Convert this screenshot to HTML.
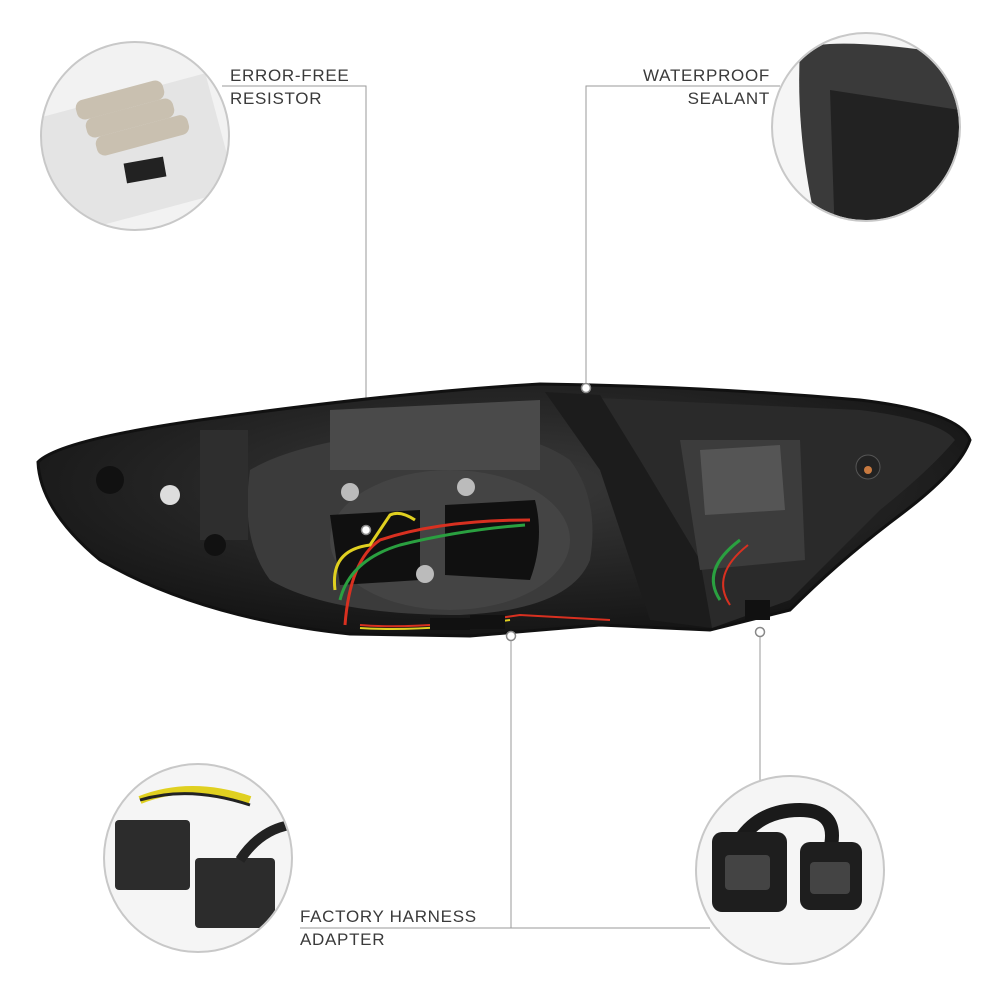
<!DOCTYPE html>
<html><head><meta charset="utf-8"><style>
html,body{margin:0;padding:0;background:#fff;}
body{width:1000px;height:1000px;position:relative;overflow:hidden;font-family:"Liberation Sans",sans-serif;}
.t{position:absolute;font-size:17px;color:#3a3a3a;letter-spacing:0.7px;line-height:23px;}
</style></head><body>
<svg width="1000" height="1000" style="position:absolute;left:0;top:0">
<defs>
<radialGradient id="g1" cx="50%" cy="40%" r="60%"><stop offset="0" stop-color="#3a3a3a"/><stop offset="1" stop-color="#151515"/></radialGradient>
<clipPath id="c1"><circle cx="135" cy="136" r="93"/></clipPath>
<clipPath id="c2"><circle cx="866" cy="127" r="93"/></clipPath>
<clipPath id="c3"><circle cx="198" cy="858" r="93"/></clipPath>
<clipPath id="c4"><circle cx="790" cy="870" r="93"/></clipPath>
</defs>
<g stroke="#9a9a9a" stroke-width="1" fill="none">
<polyline points="222,86 366,86 366,530"/>
<polyline points="780,86 586,86 586,388"/>
<polyline points="300,928 710,928"/>
<line x1="511" y1="636" x2="511" y2="928"/>
<line x1="760" y1="632" x2="760" y2="780"/>
</g>
<path d="M38,462 Q60,440 200,420 Q400,392 540,384 Q700,386 860,400 Q960,412 970,440 Q960,470 900,515 Q840,560 790,610 L710,630 L600,625 L470,636 L350,634 Q200,618 100,560 Q40,510 38,462 Z" fill="url(#g1)" stroke="#111" stroke-width="3"/>
<path d="M600,398 L860,410 Q940,420 955,440 Q930,470 880,510 L790,600 L712,628 L640,520 Z" fill="#2a2a2a"/>
<path d="M545,392 L600,395 L640,460 L700,560 L712,628 L650,620 L600,470 Z" fill="#1c1c1c"/>
<path d="M250,470 Q300,440 420,430 Q520,425 570,460 Q600,500 590,560 Q570,610 460,615 Q330,615 270,580 Q240,540 250,470 Z" fill="#3b3b3b"/>
<ellipse cx="450" cy="540" rx="120" ry="70" fill="#444"/>
<path d="M330,515 L420,510 L420,580 L340,585 Z" fill="#101010"/>
<path d="M445,505 L535,500 Q545,540 530,580 L445,575 Z" fill="#101010"/>
<path d="M330,410 L540,400 L540,470 L330,470 Z" fill="#4a4a4a"/>
<circle cx="350" cy="492" r="9" fill="#bbb"/><circle cx="466" cy="487" r="9" fill="#bbb"/><circle cx="425" cy="574" r="9" fill="#bbb"/>
<rect x="200" y="430" width="48" height="110" fill="#2e2e2e"/>
<circle cx="170" cy="495" r="10" fill="#ddd"/>
<circle cx="110" cy="480" r="14" fill="#111"/>
<circle cx="215" cy="545" r="11" fill="#111"/>
<path d="M680,440 L800,440 L805,560 L700,570 Z" fill="#3c3c3c"/>
<path d="M700,450 L780,445 L785,510 L705,515 Z" fill="#555"/>
<circle cx="868" cy="467" r="12" fill="#222" stroke="#555"/>
<circle cx="868" cy="470" r="4" fill="#c87a40"/>
<g fill="none" stroke-width="3">
<path d="M345,625 Q350,560 380,540 Q440,520 530,520" stroke="#d83020"/>
<path d="M340,600 Q350,560 400,545 Q460,530 525,525" stroke="#2aa040"/>
<path d="M335,590 Q330,550 370,545 L390,515 Q400,510 415,520" stroke="#e0d020"/>
<path d="M360,625 Q420,630 520,615 L610,620" stroke="#d83020" stroke-width="2"/>
<path d="M360,628 Q420,632 510,620" stroke="#e0d020" stroke-width="2"/>
<path d="M740,540 Q700,570 720,600" stroke="#2aa040"/>
<path d="M748,545 Q710,575 730,605" stroke="#d83020" stroke-width="2"/>
</g>
<rect x="430" y="618" width="40" height="12" fill="#111"/>
<rect x="470" y="615" width="35" height="14" fill="#111"/>
<rect x="745" y="600" width="25" height="20" fill="#111"/>
<g fill="#fff" stroke="#888" stroke-width="1.5">
<circle cx="366" cy="530" r="4.5"/><circle cx="586" cy="388" r="4.5"/><circle cx="511" cy="636" r="4.5"/><circle cx="760" cy="632" r="4.5"/>
</g>
<circle cx="135" cy="136" r="94" fill="#f2f2f2"/>
<g clip-path="url(#c1)">
<rect x="30" y="95" width="190" height="120" fill="#e4e4e4" transform="rotate(-15 130 140)"/>
<rect x="75" y="90" width="90" height="20" rx="8" fill="#c9c0b0" transform="rotate(-15 120 100)"/>
<rect x="85" y="108" width="90" height="20" rx="8" fill="#c9c0b0" transform="rotate(-15 130 118)"/>
<rect x="95" y="126" width="95" height="20" rx="8" fill="#c9c0b0" transform="rotate(-15 140 136)"/>
<rect x="125" y="160" width="40" height="20" fill="#222" transform="rotate(-10 145 170)"/>
</g>
<circle cx="135" cy="136" r="94" fill="none" stroke="#c8c8c8" stroke-width="2"/>
<circle cx="866" cy="127" r="94" fill="#f5f5f5"/>
<g clip-path="url(#c2)">
<path d="M800,50 Q830,35 960,55 L970,240 L820,240 Q795,140 800,50 Z" fill="#3a3a3a"/>
<path d="M830,90 L960,110 L960,240 L835,240 Z" fill="#222"/>
</g>
<circle cx="866" cy="127" r="94" fill="none" stroke="#c8c8c8" stroke-width="2"/>
<circle cx="198" cy="858" r="94" fill="#f5f5f5"/>
<g clip-path="url(#c3)">
<path d="M140,800 Q190,780 250,800" stroke="#e0d020" stroke-width="8" fill="none"/>
<path d="M140,800 Q190,785 250,805" stroke="#222" stroke-width="3" fill="none"/>
<rect x="115" y="820" width="75" height="70" rx="4" fill="#2c2c2c"/>
<rect x="195" y="858" width="80" height="70" rx="4" fill="#2c2c2c"/>
<path d="M240,860 Q260,830 290,825" stroke="#222" stroke-width="10" fill="none"/>
</g>
<circle cx="198" cy="858" r="94" fill="none" stroke="#c8c8c8" stroke-width="2"/>
<circle cx="790" cy="870" r="94" fill="#f5f5f5"/>
<g clip-path="url(#c4)">
<path d="M740,840 Q760,810 800,810 Q840,810 830,850" stroke="#1a1a1a" stroke-width="14" fill="none"/>
<rect x="712" y="832" width="75" height="80" rx="10" fill="#1e1e1e"/>
<rect x="800" y="842" width="62" height="68" rx="10" fill="#1e1e1e"/>
<rect x="725" y="855" width="45" height="35" rx="4" fill="#444"/>
<rect x="810" y="862" width="40" height="32" rx="4" fill="#444"/>
</g>
<circle cx="790" cy="870" r="94" fill="none" stroke="#c8c8c8" stroke-width="2"/>
</svg>
<div class="t" style="left:230px;top:64px">ERROR-FREE<br>RESISTOR</div>
<div class="t" style="left:600px;top:64px;width:170px;text-align:right">WATERPROOF<br>SEALANT</div>
<div class="t" style="left:300px;top:905px">FACTORY HARNESS<br>ADAPTER</div>
</body></html>
